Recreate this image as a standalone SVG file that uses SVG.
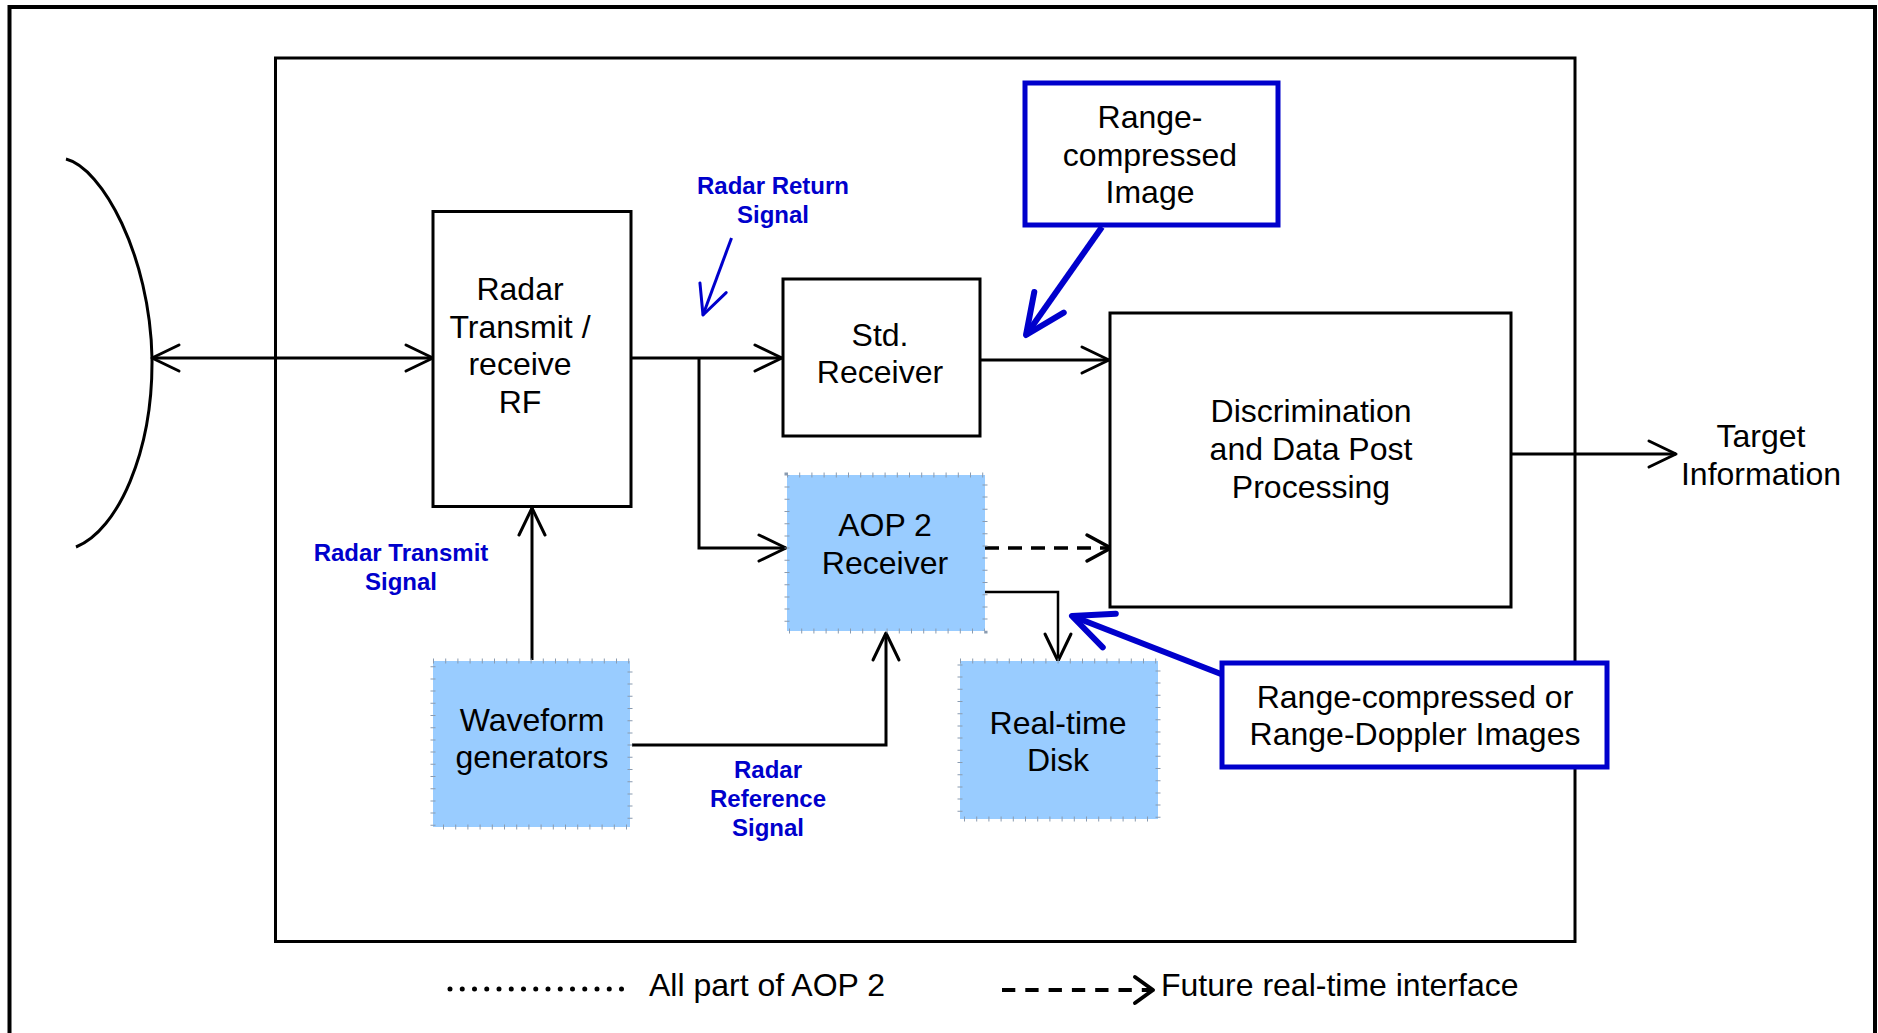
<svg xmlns="http://www.w3.org/2000/svg" width="1878" height="1033" viewBox="0 0 1878 1033">
<style>
.t{font-family:"Liberation Sans",Arial,sans-serif;font-size:32px;fill:#000;text-anchor:middle}
.b{font-family:"Liberation Sans",Arial,sans-serif;font-size:24px;font-weight:bold;fill:#0000CC;text-anchor:middle}
.box{fill:#fff;stroke:#000;stroke-width:3}
.aop{fill:#99CCFF;stroke:#8a9bb0;stroke-width:5;stroke-dasharray:1 11.2}
.blue{fill:#fff;stroke:#0000CC;stroke-width:5}
.ln{fill:none;stroke:#000;stroke-width:3}
</style>
<defs>
<marker id="ah" viewBox="-32 -16 36 32" refX="0" refY="0" markerWidth="36" markerHeight="32" markerUnits="userSpaceOnUse" orient="auto-start-reverse">
<path d="M-27,-13 L0,0 L-27,13" fill="none" stroke="#000" stroke-width="3" stroke-linecap="round" stroke-linejoin="round"/>
</marker>
<marker id="ahd" viewBox="-32 -16 36 32" refX="0" refY="0" markerWidth="36" markerHeight="32" markerUnits="userSpaceOnUse" orient="auto">
<path d="M-24,-13 L0,0 L-24,13" fill="none" stroke="#000" stroke-width="3.5" stroke-linecap="round" stroke-linejoin="round"/>
</marker>
<marker id="ahl" viewBox="-24 -16 28 32" refX="0" refY="0" markerWidth="28" markerHeight="32" markerUnits="userSpaceOnUse" orient="auto">
<path d="M-18,-13 L0,0 L-18,13" fill="none" stroke="#000" stroke-width="4" stroke-linecap="round" stroke-linejoin="round"/>
</marker>
<marker id="bs" viewBox="-34 -18 38 36" refX="0" refY="0" markerWidth="38" markerHeight="36" markerUnits="userSpaceOnUse" orient="auto">
<path d="M-29,-14 L0,0 L-29,14" fill="none" stroke="#0000CC" stroke-width="3" stroke-linecap="round" stroke-linejoin="round"/>
</marker>
<marker id="bb" viewBox="-46 -24 52 48" refX="0" refY="0" markerWidth="52" markerHeight="48" markerUnits="userSpaceOnUse" orient="auto">
<path d="M-40,-18 L0,0 L-40,18" fill="none" stroke="#0000CC" stroke-width="6" stroke-linecap="round" stroke-linejoin="round"/>
</marker>
</defs>
<rect width="1878" height="1033" fill="#fff"/>
<rect id="outer-frame" x="9.5" y="7" width="1865.5" height="1060" fill="none" stroke="#000" stroke-width="4"/>
<rect id="aop-frame" x="275.5" y="58" width="1299.5" height="883.5" fill="none" stroke="#000" stroke-width="3"/>

<g id="antenna">
<path d="M66,159 C102,168 150,255 152,358 C153,452 118,530 76,547" fill="none" stroke="#000" stroke-width="3"/>
</g>

<g id="connectors">
<line x1="152" y1="358" x2="433" y2="358" class="ln" marker-start="url(#ah)" marker-end="url(#ah)"/>
<line x1="631" y1="358" x2="782" y2="358" class="ln" marker-end="url(#ah)"/>
<path d="M699,358 V548 H786" class="ln" marker-end="url(#ah)"/>
<line x1="980" y1="360" x2="1109" y2="360" class="ln" marker-end="url(#ah)"/>
<line x1="985" y1="548" x2="1111" y2="548" fill="none" stroke="#000" stroke-width="3.5" stroke-dasharray="14 9" marker-end="url(#ahd)"/>
<path d="M985,592 H1058 V661" fill="none" stroke="#000" stroke-width="2.5" marker-end="url(#ah)"/>
<line x1="532" y1="660" x2="532" y2="508" class="ln" marker-end="url(#ah)"/>
<path d="M632,745 H886 V633" class="ln" marker-end="url(#ah)"/>
<line x1="1511" y1="454" x2="1676" y2="454" class="ln" marker-end="url(#ah)"/>
<line x1="731.5" y1="238" x2="703" y2="315" fill="none" stroke="#0000CC" stroke-width="3" marker-end="url(#bs)"/>
<line x1="1102" y1="227" x2="1026" y2="335" fill="none" stroke="#0000CC" stroke-width="6" marker-end="url(#bb)"/>
<line x1="1221" y1="674" x2="1072" y2="616" fill="none" stroke="#0000CC" stroke-width="6" marker-end="url(#bb)"/>
</g>

<g id="radar-rf">
<rect x="433" y="211.5" width="198" height="295" class="box"/>
<text class="t" x="520" y="300">Radar</text>
<text class="t" x="520" y="337.5">Transmit /</text>
<text class="t" x="520" y="375">receive</text>
<text class="t" x="520" y="413">RF</text>
</g>

<g id="std-receiver">
<rect x="783" y="279" width="197" height="157" class="box"/>
<text class="t" x="880" y="346">Std.</text>
<text class="t" x="880" y="383">Receiver</text>
</g>

<g id="range-image">
<rect x="1025" y="83" width="253" height="142" class="blue"/>
<text class="t" x="1150" y="128">Range-</text>
<text class="t" x="1150" y="166">compressed</text>
<text class="t" x="1150" y="203">Image</text>
</g>

<g id="discrimination">
<rect x="1110" y="313" width="401" height="294" class="box"/>
<text class="t" x="1311" y="421.5">Discrimination</text>
<text class="t" x="1311" y="459.5">and Data Post</text>
<text class="t" x="1311" y="498">Processing</text>
</g>

<g id="aop2-receiver">
<rect x="787" y="475" width="198" height="156" class="aop"/>
<text class="t" x="885" y="536">AOP 2</text>
<text class="t" x="885" y="574">Receiver</text>
</g>

<g id="waveform">
<rect x="433" y="661" width="197" height="166" class="aop"/>
<text class="t" x="532" y="731">Waveform</text>
<text class="t" x="532" y="768">generators</text>
</g>

<g id="disk">
<rect x="960" y="661" width="198" height="158" class="aop"/>
<text class="t" x="1058" y="734">Real-time</text>
<text class="t" x="1058" y="771">Disk</text>
</g>

<g id="range-doppler">
<rect x="1222" y="663" width="385" height="104" class="blue"/>
<text class="t" x="1415" y="708">Range-compressed or</text>
<text class="t" x="1415" y="745">Range-Doppler Images</text>
</g>

<g id="target">
<text class="t" x="1761" y="447">Target</text>
<text class="t" x="1761" y="485">Information</text>
</g>

<g id="labels">
<text class="b" x="773" y="193.5">Radar Return</text>
<text class="b" x="773" y="223">Signal</text>
<text class="b" x="401" y="561">Radar Transmit</text>
<text class="b" x="401" y="590">Signal</text>
<text class="b" x="768" y="777.5">Radar</text>
<text class="b" x="768" y="806.5">Reference</text>
<text class="b" x="768" y="835.5">Signal</text>
</g>

<g id="legend">
<line x1="450" y1="989" x2="622" y2="989" stroke="#000" stroke-width="5" stroke-linecap="round" stroke-dasharray="0 12.25"/>
<text class="t" x="649" y="996" style="text-anchor:start">All part of AOP 2</text>
<line x1="1002" y1="990" x2="1153" y2="990" fill="none" stroke="#000" stroke-width="4" stroke-dasharray="13.3 10" marker-end="url(#ahl)"/>
<text class="t" x="1161" y="996" style="text-anchor:start">Future real-time interface</text>
</g>
</svg>
